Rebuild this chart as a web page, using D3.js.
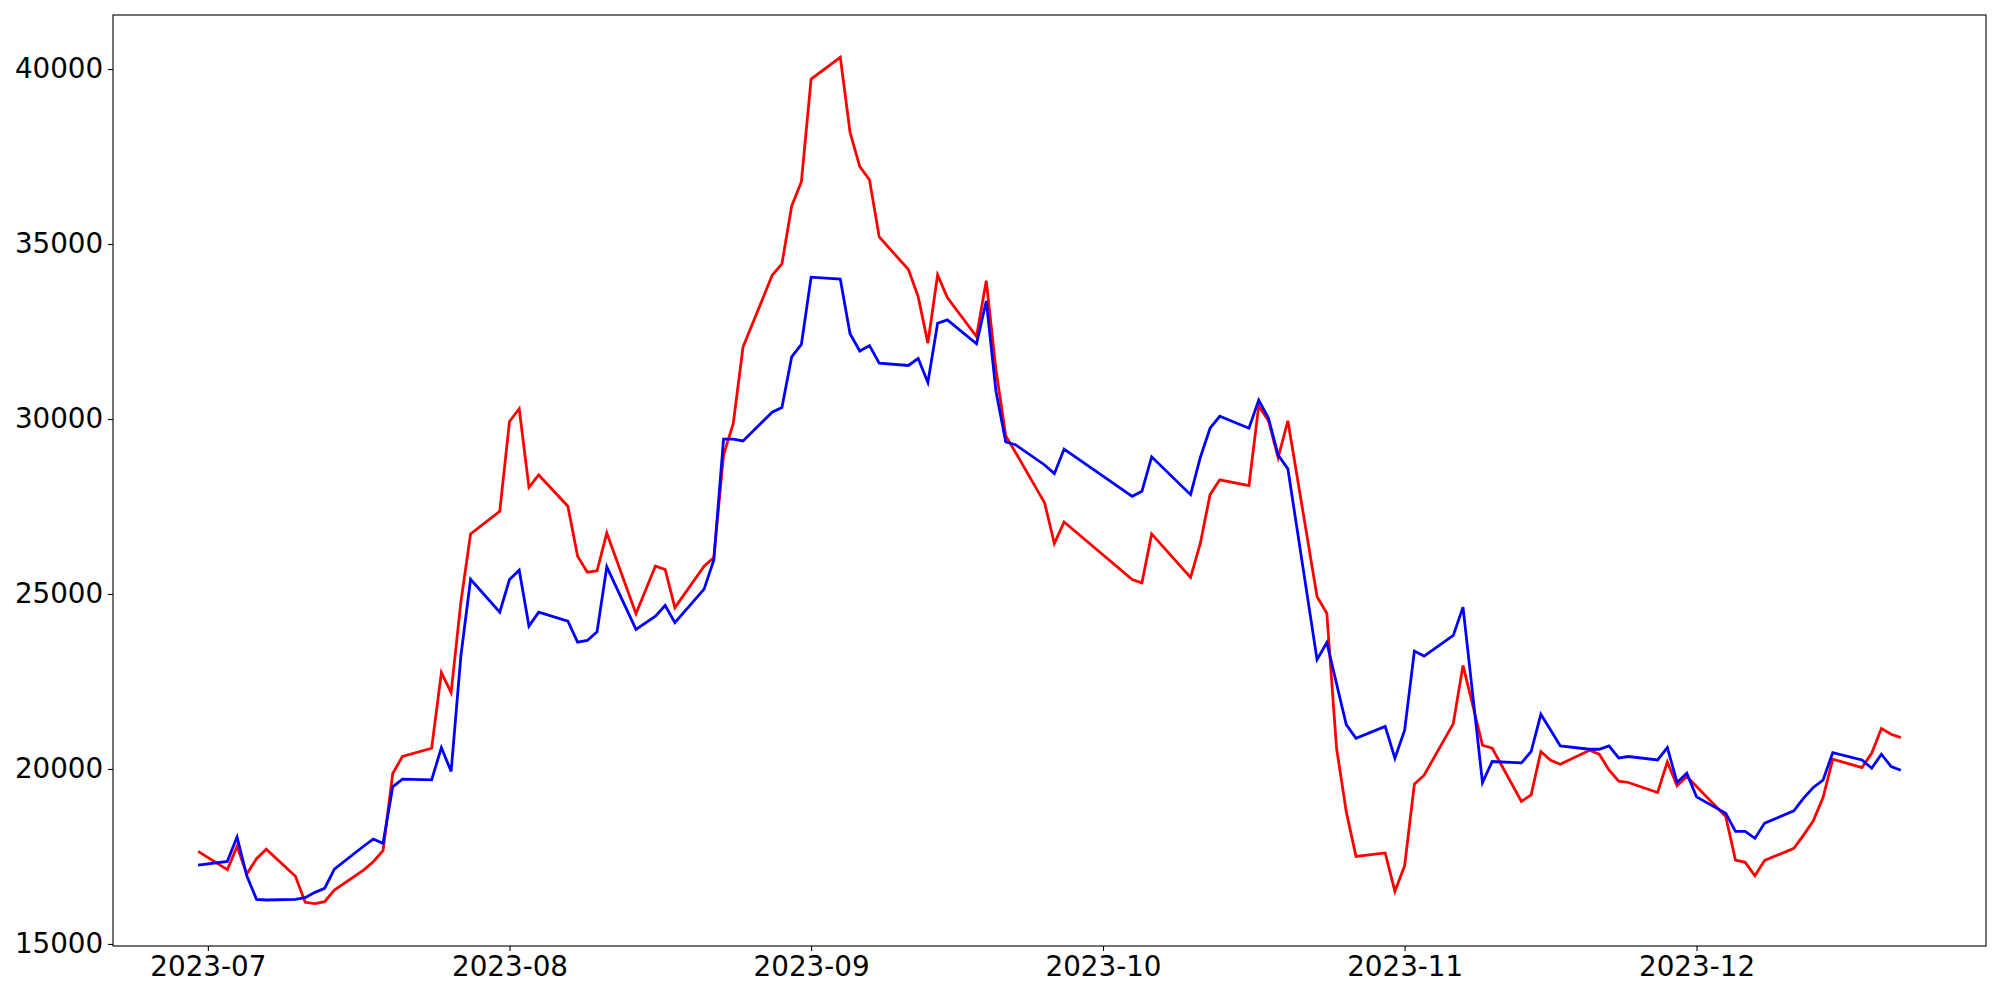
<!DOCTYPE html>
<html>
<head>
<meta charset="utf-8">
<script src="https://cdn.jsdelivr.net/npm/d3@7"></script>
<style>
  html, body { margin: 0; padding: 0; background: #ffffff; }
  svg { display: block; }
  .tick text { font-family: "DejaVu Sans", sans-serif; }
</style>
</head>
<body>
<svg id="chart" width="2000" height="1000"></svg>
<script>
// Trading dates (weekdays, Korean market holidays excluded)
const dates = [
  "2023-06-30","2023-07-03","2023-07-04","2023-07-05","2023-07-06","2023-07-07",
  "2023-07-10","2023-07-11","2023-07-12","2023-07-13","2023-07-14",
  "2023-07-17","2023-07-18","2023-07-19","2023-07-20","2023-07-21",
  "2023-07-24","2023-07-25","2023-07-26","2023-07-27","2023-07-28",
  "2023-07-31","2023-08-01","2023-08-02","2023-08-03","2023-08-04",
  "2023-08-07","2023-08-08","2023-08-09","2023-08-10","2023-08-11",
  "2023-08-14","2023-08-16","2023-08-17","2023-08-18",
  "2023-08-21","2023-08-22","2023-08-23","2023-08-24","2023-08-25",
  "2023-08-28","2023-08-29","2023-08-30","2023-08-31","2023-09-01",
  "2023-09-04","2023-09-05","2023-09-06","2023-09-07","2023-09-08",
  "2023-09-11","2023-09-12","2023-09-13","2023-09-14","2023-09-15",
  "2023-09-18","2023-09-19","2023-09-20","2023-09-21","2023-09-22",
  "2023-09-25","2023-09-26","2023-09-27",
  "2023-10-04","2023-10-05","2023-10-06",
  "2023-10-10","2023-10-11","2023-10-12","2023-10-13",
  "2023-10-16","2023-10-17","2023-10-18","2023-10-19","2023-10-20",
  "2023-10-23","2023-10-24","2023-10-25","2023-10-26","2023-10-27",
  "2023-10-30","2023-10-31","2023-11-01","2023-11-02","2023-11-03",
  "2023-11-06","2023-11-07","2023-11-08","2023-11-09","2023-11-10",
  "2023-11-13","2023-11-14","2023-11-15","2023-11-16","2023-11-17",
  "2023-11-20","2023-11-21","2023-11-22","2023-11-23","2023-11-24",
  "2023-11-27","2023-11-28","2023-11-29","2023-11-30","2023-12-01",
  "2023-12-04","2023-12-05","2023-12-06","2023-12-07","2023-12-08",
  "2023-12-11","2023-12-12","2023-12-13","2023-12-14","2023-12-15",
  "2023-12-18","2023-12-19","2023-12-20","2023-12-21","2023-12-22"
];

const redValues = [
  17645,17120,17787,16997,17434,17707,
  16931,16190,16150,16207,16541,
  17111,17348,17662,19870,20355,
  20592,22752,22181,24765,26714,
  27361,29930,30292,28047,28401,
  27506,26078,25622,25661,26745,
  24435,25797,25699,24609,
  25793,26041,28974,29876,32055,
  34107,34435,36081,36780,39713,
  40335,38193,37211,36838,35202,
  34270,33496,32167,34116,33468,
  32356,33954,31405,29522,29050,
  27602,26441,27060,
  25414,25319,26717,
  25471,26444,27839,28261,
  28095,30372,29950,28900,29950,
  24920,24449,20598,18780,17502,
  17600,16503,17234,19565,19822,
  21296,22960,21820,20678,20592,
  19071,19260,20498,20250,20136,
  20535,20421,19973,19650,19613,
  19328,20201,19517,19785,19500,
  18642,17397,17331,16949,17388,
  17730,18110,18518,19185,20278,
  20041,20449,21154,20991,20897
];

const blueValues = [
  17254,17359,18053,16949,16275,16255,
  16275,16321,16474,16588,17140,
  17791,17996,17873,19489,19708,
  19688,20611,19927,23220,25420,
  24481,25414,25680,24082,24481,
  24224,23625,23673,23922,25776,
  23987,24367,24672,24181,
  25140,25973,29425,29425,29372,
  30193,30330,31773,32133,34053,
  33996,32438,31942,32099,31594,
  31530,31728,31043,32737,32832,
  32147,33373,30786,29343,29265,
  28686,28438,29142,
  27790,27933,28920,
  27838,28900,29736,30078,
  29736,30541,30030,28969,28575,
  23123,23614,22440,21265,20874,
  21215,20307,21106,23368,23226,
  23816,24624,22118,19611,20212,
  20173,20498,21562,21115,20658,
  20563,20563,20658,20316,20355,
  20258,20612,19613,19879,19203,
  18736,18215,18215,18016,18452,
  18803,19166,19471,19679,20469,
  20258,20021,20421,20069,19964
];

const yTickValues = [15000, 20000, 25000, 30000, 35000, 40000];
const xTickFormat = "%Y-%m";

const W = 2000, H = 1000;
const margin = { left: 113, right: 14, top: 15, bottom: 54 };
const plotW = W - margin.left - margin.right;
const plotH = H - margin.top - margin.bottom;

const parse = d3.timeParse("%Y-%m-%d");
const dateObjs = dates.map(parse);

const seriesList = [
  { name: "red", color: "#ff0000", values: redValues },
  { name: "blue", color: "#0000ff", values: blueValues }
];

// Matplotlib-style 5% margins on both axes
const xExt = d3.extent(dateObjs).map(d => +d);
const xPad = (xExt[1] - xExt[0]) * 0.05;
const allVals = redValues.concat(blueValues);
const yExt = d3.extent(allVals);
const yPad = (yExt[1] - yExt[0]) * 0.05;

const x = d3.scaleTime()
  .domain([new Date(xExt[0] - xPad), new Date(xExt[1] + xPad)])
  .range([0, plotW]);
const y = d3.scaleLinear()
  .domain([yExt[0] - yPad, yExt[1] + yPad])
  .range([plotH, 0]);

const svg = d3.select("#chart");
svg.append("rect").attr("width", W).attr("height", H).attr("fill", "#ffffff");

const g = svg.append("g").attr("transform", `translate(${margin.left},${margin.top})`);

const line = d3.line()
  .x((d, i) => x(dateObjs[i]))
  .y(d => y(d));

seriesList.forEach(s => {
  g.append("path")
    .datum(s.values)
    .attr("fill", "none")
    .attr("stroke", s.color)
    .attr("stroke-width", 2.78)
    .attr("stroke-linejoin", "miter")
    .attr("stroke-linecap", "butt")
    .attr("d", line);
});

// Frame (all four spines)
g.append("rect")
  .attr("x", 0).attr("y", 0)
  .attr("width", plotW).attr("height", plotH)
  .attr("fill", "none")
  .attr("stroke", "#000000")
  .attr("stroke-width", 1.1);

const fontSize = 27.78;

const xAxis = d3.axisBottom(x)
  .ticks(d3.timeMonth.every(1))
  .tickFormat(d3.timeFormat(xTickFormat))
  .tickSize(4.9)
  .tickPadding(4.9);

const gx = g.append("g")
  .attr("transform", `translate(0,${plotH})`)
  .call(xAxis);
gx.select(".domain").remove();
gx.selectAll(".tick line").attr("stroke", "#000").attr("stroke-width", 1.1);
gx.selectAll(".tick text").attr("font-size", fontSize).attr("fill", "#000");

const yAxis = d3.axisLeft(y)
  .tickValues(yTickValues)
  .tickFormat(d3.format("d"))
  .tickSize(4.9)
  .tickPadding(4.9);

const gy = g.append("g").call(yAxis);
gy.select(".domain").remove();
gy.selectAll(".tick line").attr("stroke", "#000").attr("stroke-width", 1.1);
gy.selectAll(".tick text").attr("font-size", fontSize).attr("fill", "#000");
</script>
</body>
</html>
